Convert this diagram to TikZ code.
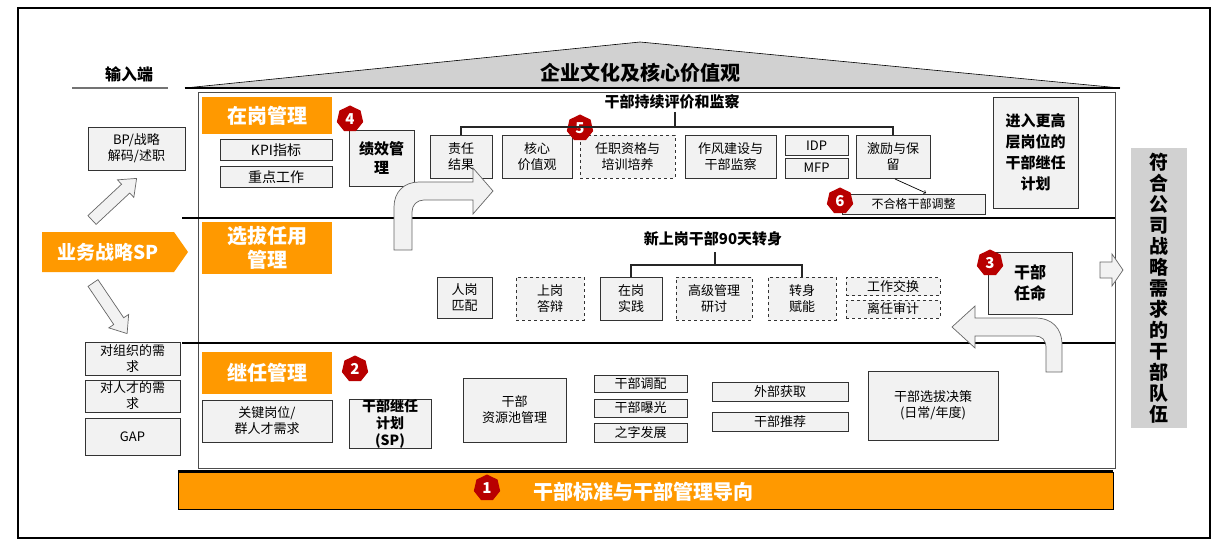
\documentclass[tikz,border=0pt]{standalone}
\usepackage{fontspec}
\setmainfont{Noto Sans CJK SC}
\usetikzlibrary{shapes.geometric,shapes.arrows}
\definecolor{org}{HTML}{FF9900}
\definecolor{bx}{HTML}{F2F2F2}
\definecolor{bred}{HTML}{B80000}
\begin{document}
\begin{tikzpicture}[x=1pt,y=-1pt,
 bxs/.style={draw=black!80,fill=bx,line width=0.8pt,align=center,font=\fontsize{13}{16}\selectfont,inner sep=0pt},
 dbx/.style={bxs,dashed},
 olab/.style={fill=org,text=white,font=\bfseries\fontsize{20}{24}\selectfont,align=center},
 badge/.style={regular polygon,regular polygon sides=7,fill=bred,text=white,font=\bfseries\fontsize{15}{15}\selectfont,minimum size=27pt,inner sep=0pt},
 hol/.style={draw=black!60,fill=bx,line width=0.7pt},
 tree/.style={line width=1.5pt,black!85}]
\useasboundingbox (0,0) rectangle (1228,556);
\draw[line width=1.2pt] (18,8) rectangle (1210,538);
% roof
\fill[black!18] (185,88) -- (640,42) -- (1120,88) -- cycle;
\draw[line width=0.6pt] (185,88) -- (640,42) -- (1120,88);
\draw[line width=2pt] (185,88) -- (1120,88);
\node[font=\bfseries\fontsize{20}{22}\selectfont] (roof) at (640,73) {企业文化及核心价值观};
\node[font=\bfseries\fontsize{16}{18}\selectfont] (inp) at (129,74) {输入端};
\draw[line width=2pt,black!55] (72,88) -- (168,88);
% main box
\draw[line width=0.8pt,black!70] (198,92) rectangle (1115,468);
\draw[line width=2pt] (182,218) -- (1115,218);
\draw[line width=2pt] (182,343) -- (1115,343);
% bottom bar
\draw[line width=2.5pt] (178,471) -- (1113,471);
\node[draw=black,fill=org,minimum width=935pt,minimum height=37pt,inner sep=0pt] (base) at (645.5,491) {};
\node[text=white,font=\bfseries\fontsize{20}{22}\selectfont] (baset) at (643,492) {干部标准与干部管理导向};
\node[badge] (b1) at (487,488) {1};
% orange labels
\node[olab,minimum width=130pt,minimum height=37pt] (l1) at (267,116) {在岗管理};
\node[olab,minimum width=130pt,minimum height=52pt] (l2) at (267,248) {选拔任用\\管理};
\node[olab,minimum width=130pt,minimum height=42pt] (l3) at (267,373) {继任管理};
% row 1
\node[bxs,minimum width=112pt,minimum height=21pt,font=\fontsize{14}{16}\selectfont] (kpi) at (276,150) {KPI指标};
\node[bxs,minimum width=112pt,minimum height=21pt,font=\fontsize{14}{16}\selectfont] (zd) at (276,177) {重点工作};
\node[bxs,minimum width=65pt,minimum height=56pt,font=\bfseries\fontsize{15}{19}\selectfont] (jx) at (381.5,158) {绩效管\\理};
\node[badge] (b4) at (350,119) {4};
\node[font=\bfseries\fontsize{15}{17}\selectfont] (t1) at (672,102) {干部持续评价和监察};
\node[bxs,minimum width=62pt,minimum height=43pt] (zr) at (461,156.5) {责任\\结果};
\node[bxs,minimum width=70pt,minimum height=43pt] (hx) at (537,156.5) {核心\\价值观};
\node[dbx,minimum width=95pt,minimum height=43pt] (rz) at (627.5,156.5) {任职资格与\\培训培养};
\node[bxs,minimum width=91pt,minimum height=43pt] (zf) at (730.5,156.5) {作风建设与\\干部监察};
\node[bxs,minimum width=63pt,minimum height=20pt] (idp) at (816.5,145.5) {IDP};
\node[bxs,minimum width=63pt,minimum height=20pt] (mfp) at (816.5,168) {MFP};
\node[bxs,minimum width=74pt,minimum height=43pt] (jl) at (893,156.5) {激励与保\\留};
\node[badge] (b5) at (580,128) {5};
\coordinate (r1) at (675,112);
\draw[tree] (r1) -- (675,127);
\draw[tree] (zr.north) -- (461,127) -- (893,127) -- (jl.north);
\node[bxs,minimum width=143pt,minimum height=20pt,font=\fontsize{12}{14}\selectfont] (bhg) at (913.5,204) {不合格干部调整};
\node[badge] (b6) at (840,201) {6};
\draw[->,line width=0.7pt] (895,179) -- (926,193);
\node[bxs,minimum width=85pt,minimum height=111pt,font=\bfseries\fontsize{15}{21}\selectfont] (jr) at (1035.5,152.5) {进入更高\\层岗位的\\干部继任\\计划};
\draw[hol] (394,250) -- (394,207) .. controls (394,192) and (404,182) .. (419,182) -- (473,182) -- (473,168) -- (493,191) -- (473,214) -- (473,200) -- (424,200) .. controls (417,200) and (412,205) .. (412,212) -- (412,250) -- cycle;
% row 2
\node[font=\bfseries\fontsize{15}{17}\selectfont] (t2) at (713,239) {新上岗干部90天转身};
\node[bxs,minimum width=55pt,minimum height=41pt] (rg) at (464.5,297.5) {人岗\\匹配};
\node[dbx,minimum width=68pt,minimum height=43pt] (sg) at (550,298.5) {上岗\\答辩};
\node[bxs,minimum width=62pt,minimum height=43pt] (zg) at (631,298.5) {在岗\\实践};
\node[dbx,minimum width=76pt,minimum height=43pt] (gj) at (714,298.5) {高级管理\\研讨};
\node[dbx,minimum width=68pt,minimum height=43pt] (zs) at (802,298.5) {转身\\赋能};
\node[dbx,minimum width=94pt,minimum height=18pt] (gz) at (893,286.5) {工作交换};
\node[dbx,minimum width=94pt,minimum height=18pt] (lr) at (893,309) {离任审计};
\coordinate (r2) at (715,252);
\draw[tree] (r2) -- (715,265);
\draw[tree] (zg.north) -- (631,265) -- (802,265) -- (zs.north);
\node[bxs,minimum width=84pt,minimum height=62pt,font=\bfseries\fontsize{16}{21}\selectfont] (rm) at (1030,283) {干部\\任命};
\node[badge] (b3) at (990,263) {3};
\draw[hol] (1062,372) -- (1062,345) .. controls (1062,328) and (1052,318) .. (1035,318) -- (975,318) -- (975,306) -- (952,327) -- (975,348) -- (975,336) -- (1035,336) .. controls (1042,336) and (1046,340) .. (1046,348) -- (1046,372) -- cycle;
% row 3
\node[bxs,minimum width=130pt,minimum height=42pt] (gjg) at (267,421) {关键岗位/\\群人才需求};
\node[bxs,minimum width=82pt,minimum height=42pt,font=\bfseries\fontsize{14}{17}\selectfont] (sp) at (390,424) {干部继任\\计划\\(SP)};
\node[badge] (b2) at (355,369) {2};
\node[bxs,minimum width=103pt,minimum height=64pt] (zyc) at (514.5,410) {干部\\资源池管理};
\node[bxs,minimum width=93pt,minimum height=17pt] (dp) at (640.5,384) {干部调配};
\node[bxs,minimum width=93pt,minimum height=18pt] (bg) at (640.5,408) {干部曝光};
\node[bxs,minimum width=93pt,minimum height=19pt] (zz) at (640.5,432.5) {之字发展};
\node[bxs,minimum width=136pt,minimum height=19pt] (wb) at (780,391.5) {外部获取};
\node[bxs,minimum width=136pt,minimum height=19pt] (tj) at (780,421.5) {干部推荐};
\node[bxs,minimum width=130pt,minimum height=69pt] (jc) at (933,405.5) {干部选拔决策\\(日常/年度)};
% left
\node[bxs,minimum width=97pt,minimum height=43pt] (bp) at (136.5,148.5) {BP/战略\\解码/述职};
\fill[org] (42,232) -- (174,232) -- (188,252) -- (174,272) -- (42,272) -- cycle;
\node[text=white,font=\bfseries\fontsize{19}{22}\selectfont] (sp0) at (108,252) {业务战略SP};
\begin{scope}[shift={(92,220)},rotate=43]
\draw[hol] (0,-6) -- (46,-6) -- (46,-12) -- (61,0) -- (46,12) -- (46,6) -- (0,6) -- cycle;
\end{scope}
\begin{scope}[shift={(93,283)},rotate=-56]
\draw[hol] (0,-6) -- (46,-6) -- (46,-12) -- (61,0) -- (46,12) -- (46,6) -- (0,6) -- cycle;
\end{scope}
\node[bxs,minimum width=95pt,minimum height=33pt] (zzx) at (132.5,358.5) {对组织的需\\求};
\node[bxs,minimum width=95pt,minimum height=32pt] (rcx) at (132.5,396) {对人才的需\\求};
\node[bxs,minimum width=95pt,minimum height=37pt] (gap) at (132.5,436.5) {GAP};
% right
\draw[hol] (1100,262) -- (1112,262) -- (1112,254) -- (1123,270) -- (1112,286) -- (1112,278) -- (1100,278) -- cycle;
\node[fill=black!18,minimum width=56pt,minimum height=280pt,align=center,font=\bfseries\fontsize{19}{21}\selectfont] (fh) at (1159,288) {符\\合\\公\\司\\战\\略\\需\\求\\的\\干\\部\\队\\伍};
\end{tikzpicture}
\end{document}
